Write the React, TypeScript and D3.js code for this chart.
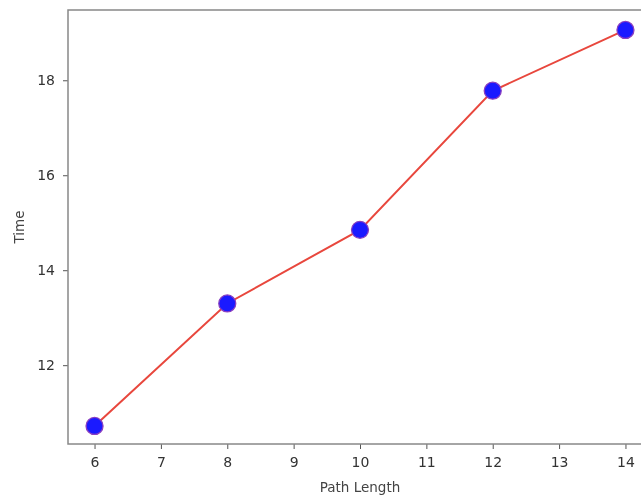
import { useEffect, useRef } from "react";
import * as d3 from "d3";

const pathLength = [6, 8, 10, 12, 14];
const timeValues = [10.72, 13.3, 14.85, 17.78, 19.06];
const xTicks = [6, 7, 8, 9, 10, 11, 12, 13, 14];
const yTicks = [12, 14, 16, 18];

export default function App() {
  const svgRef = useRef<SVGSVGElement>(null);

  useEffect(() => {
    const width = 641;
    const height = 498;
    const margin = { top: 10, right: -11, bottom: 54, left: 68 };
    const w = width - margin.left - margin.right;
    const h = height - margin.top - margin.bottom;

    const svg = d3.select(svgRef.current);
    svg.selectAll("*").remove();
    svg.attr("width", width).attr("height", height);

    const g = svg
      .append("g")
      .attr("transform", `translate(${margin.left},${margin.top})`);

    // matplotlib-style 5% margins
    const xScale = d3.scaleLinear().domain([5.6, 14.4]).range([0, w]);
    const yScale = d3.scaleLinear().domain([10.34, 19.48]).range([h, 0]);

    const line = d3
      .line<number>()
      .x((_, i) => xScale(pathLength[i]))
      .y((d) => yScale(d));

    g.append("path")
      .datum(timeValues)
      .attr("fill", "none")
      .attr("stroke", "#e8473d")
      .attr("stroke-width", 2)
      .attr("d", line);

    g.selectAll(".dot")
      .data(timeValues)
      .join("circle")
      .attr("class", "dot")
      .attr("cx", (_, i) => xScale(pathLength[i]))
      .attr("cy", (d) => yScale(d))
      .attr("r", 8.5)
      .attr("fill", "#1a1aff")
      .attr("stroke", "#8a3fc0")
      .attr("stroke-width", 1.3);

    const xAxis = g
      .append("g")
      .attr("transform", `translate(0,${h})`)
      .call(d3.axisBottom(xScale).tickValues(xTicks).tickSize(5).tickPadding(8).tickFormat(d3.format("d")));
    const yAxis = g
      .append("g")
      .call(d3.axisLeft(yScale).tickValues(yTicks).tickSize(5).tickPadding(8).tickFormat(d3.format("d")));

    [xAxis, yAxis].forEach((ax) => {
      ax.select(".domain").remove();
      ax.selectAll("line").attr("stroke", "#555").attr("stroke-width", 1);
      ax.selectAll("text")
        .attr("fill", "#333")
        .style("font-family", "DejaVu Sans")
        .style("font-size", "14px");
    });

    // spines
    g.append("rect")
      .attr("x", 0)
      .attr("y", 0)
      .attr("width", w)
      .attr("height", h)
      .attr("fill", "none")
      .attr("stroke", "#888")
      .attr("stroke-width", 1.5);

    svg
      .append("text")
      .attr("x", margin.left + xScale(10))
      .attr("y", 492)
      .attr("text-anchor", "middle")
      .attr("fill", "#444")
      .style("font-family", "DejaVu Sans")
      .style("font-size", "13.5px")
      .text("Path Length");

    svg
      .append("text")
      .attr("transform", `translate(24,${margin.top + h / 2}) rotate(-90)`)
      .attr("text-anchor", "middle")
      .attr("fill", "#444")
      .style("font-family", "DejaVu Sans")
      .style("font-size", "13.5px")
      .text("Time");
  }, []);

  return (
    <div style={{ position: "fixed", left: 0, top: 0, overflow: "hidden", width: 641, height: 498 }}>
      <svg ref={svgRef} style={{ display: "block" }}></svg>
    </div>
  );
}
